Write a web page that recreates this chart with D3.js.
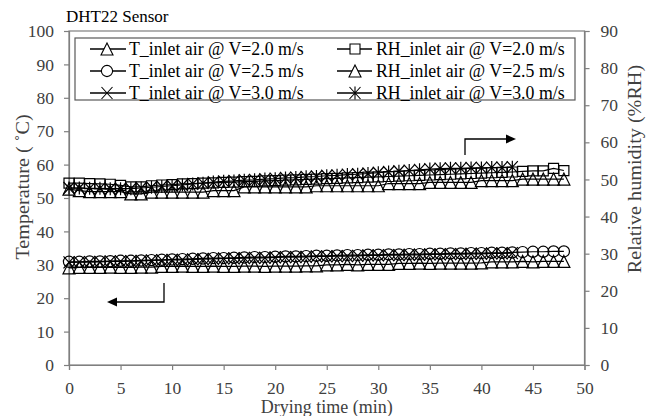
<!DOCTYPE html>
<html><head><meta charset="utf-8">
<script src="https://cdn.jsdelivr.net/npm/d3@7"></script>
<style>
html,body{margin:0;padding:0;background:#fff;}
svg{display:block;}
text{font-family:"Liberation Serif","Times New Roman",serif;}
</style></head>
<body>
<svg id="chart" width="653" height="416"></svg>
<script>
// ---------------- data ----------------
const minutes48 = d3.range(0, 49);
const minutes43 = d3.range(0, 44);
const xTicks = [0,5,10,15,20,25,30,35,40,45,50];
const yLeftTicks = [0,10,20,30,40,50,60,70,80,90,100];
const yRightTicks = [0,10,20,30,40,50,60,70,80,90];

const T_20 = [29.1,29.2,29.2,29.2,29.3,29.2,29.2,29.3,29.3,
  29.5,29.5,29.6,29.5,29.5,29.6,29.5,29.5,29.6,29.6,29.5,29.6,29.6,29.6,29.7,29.7,
  30.0,30.0,30.1,30.0,30.1,30.1,30.1,
  30.4,30.4,30.5,30.4,30.5,30.5,30.5,30.5,30.6,
  30.9,30.9,30.9,31.0,30.9,31.0,31.0,31.0];
const T_25 = [30.9,30.9,31.0,31.0,31.1,31.2,31.2,31.3,31.4,31.5,31.6,31.7,31.8,31.9,32.0,32.0,
  32.1,32.2,32.3,32.3,32.4,32.5,32.5,32.6,32.7,32.7,32.8,32.9,32.9,33.0,33.0,33.1,33.1,
  33.2,33.2,33.3,33.3,33.4,33.4,33.5,33.5,33.6,33.6,33.7,33.8,33.9,33.9,34.0,34.0];
const T_30 = [30.7,30.8,30.8,30.9,31.0,31.0,31.1,31.2,31.3,31.4,31.5,31.5,31.6,31.7,31.8,31.9,
  31.9,32.0,32.1,32.1,32.2,32.3,32.3,32.4,32.5,32.5,32.6,32.6,32.7,32.8,32.8,32.9,32.9,
  33.0,33.0,33.1,33.1,33.2,33.2,33.3,33.3,33.4,33.4,33.5];
const RH_20 = [49.0,49.0,48.9,48.8,48.7,48.4,48.0,48.0,48.3,48.5,48.6,48.8,48.9,49.0,49.1,49.2,
  49.3,49.4,49.5,49.6,49.7,49.8,49.9,50.0,50.1,50.2,50.3,50.4,50.5,50.6,50.7,50.8,50.9,
  51.0,51.1,51.2,51.3,51.4,51.5,51.6,51.7,51.8,51.9,52.0,52.2,52.3,52.3,53.0,52.4];
const RH_25 = [47.4,47.0,46.7,46.7,46.7,46.7,46.1,46.1,46.6,46.6,46.6,46.6,46.6,46.6,47.0,47.0,
  47.0,48.0,48.0,48.0,48.0,48.0,48.0,48.0,48.3,48.3,48.3,48.3,48.3,48.3,48.3,48.9,48.9,
  48.9,48.9,49.2,49.2,49.2,49.2,49.2,49.7,49.7,49.7,49.7,50.1,50.1,50.1,50.1,50.1];
const RH_30 = [47.7,47.7,47.6,47.6,47.5,47.5,47.5,47.7,47.9,48.1,48.3,48.5,48.8,49.0,49.3,49.5,
  49.6,49.8,49.9,50.1,50.2,50.4,50.5,50.7,50.8,51.0,51.1,51.3,51.4,51.6,51.8,52.0,52.2,
  52.4,52.6,52.8,52.9,53.0,53.0,53.1,53.1,53.2,53.2,53.3];

const seriesNames = ["T_inlet air @ V=2.0 m/s","T_inlet air @ V=2.5 m/s","T_inlet air @ V=3.0 m/s",
  "RH_inlet air @ V=2.0 m/s","RH_inlet air @ V=2.5 m/s","RH_inlet air @ V=3.0 m/s"];
const seriesMarkers = ["triangle","circle","x","square","triangle","star"];
const seriesAxis = ["left","left","left","right","right","right"];
const seriesX = [minutes48, minutes48, minutes43, minutes48, minutes48, minutes43];
const seriesY = [T_20, T_25, T_30, RH_20, RH_25, RH_30];

const titleText = "DHT22 Sensor";
const xTitle = "Drying time (min)";
const yLeftTitle = "Temperature ( \u02DAC)";
const yRightTitle = "Relative humidity (%RH)";

// ---------------- layout ----------------
const L = 69, R = 584.5, T = 31, B = 365;
const axisColor = "#7f7f7f", labelColor = "#404040";
const svg = d3.select("#chart");

const x = d3.scaleLinear().domain([0,50]).range([L,R]);
const yL = d3.scaleLinear().domain([0,100]).range([B,T]);
const yR = d3.scaleLinear().domain([0,90]).range([B,T]);

// frame
svg.append("rect").attr("x",L).attr("y",T).attr("width",R-L).attr("height",B-T)
  .attr("fill","none").attr("stroke",axisColor).attr("stroke-width",1.2);

function styleAxis(g){
  g.select(".domain").attr("stroke",axisColor).attr("stroke-width",1.2);
  g.selectAll(".tick line").attr("stroke",axisColor).attr("stroke-width",1.2);
  g.selectAll(".tick text").attr("fill",labelColor).style("font-size","17.5px")
    .style("font-family",'"Liberation Serif","Times New Roman",serif');
}
svg.append("g").attr("transform",`translate(0,${B})`)
  .call(d3.axisBottom(x).tickValues(xTicks).tickSize(5).tickPadding(12).tickFormat(d3.format("d")))
  .call(styleAxis);
svg.append("g").attr("transform",`translate(${L},0)`)
  .call(d3.axisLeft(yL).tickValues(yLeftTicks).tickSize(5).tickPadding(10).tickFormat(d3.format("d")))
  .call(styleAxis);
svg.append("g").attr("transform",`translate(${R},0)`)
  .call(d3.axisRight(yR).tickValues(yRightTicks).tickSize(5).tickPadding(11).tickFormat(d3.format("d")))
  .call(styleAxis);

// titles
svg.append("text").attr("x",66).attr("y",22).style("font-size","17px").attr("fill","#000").text(titleText);
svg.append("text").attr("x",(L+R)/2).attr("y",413).attr("text-anchor","middle")
  .style("font-size","18px").attr("fill",labelColor).text(xTitle);
svg.append("text").attr("transform","translate(23,187) rotate(-90) scale(1.12,1)").attr("text-anchor","middle")
  .attr("dominant-baseline","central").style("font-size","18px").attr("fill",labelColor).text(yLeftTitle);
svg.append("text").attr("transform","translate(635,169) rotate(-90) scale(1.12,1)").attr("text-anchor","middle")
  .attr("dominant-baseline","central").style("font-size","18px").attr("fill",labelColor).text(yRightTitle);

// marker paths
function markerPath(type){
  const s = 6;
  switch(type){
    case "triangle": return `M0,${-s}L${s},${s}L${-s},${s}Z`;
    case "circle": { const p = d3.path(); p.arc(0,0,5.6,0,2*Math.PI); p.closePath(); return p.toString(); }
    case "square": return `M-5,-5H5V5H-5Z`;
    case "x": return `M-5.5,-6L5.5,6M-5.5,6L5.5,-6`;
    case "star": return `M-5.5,-6L5.5,6M-5.5,6L5.5,-6M0,-6.5V6.5`;
  }
}

// series
const plot = svg.append("g");
seriesY.forEach((vals, i) => {
  const ys = seriesAxis[i] === "left" ? yL : yR;
  const pts = seriesX[i].map((m, j) => [m, vals[j]]);
  plot.append("path").datum(pts)
    .attr("d", d3.line().x(d => x(d[0])).y(d => ys(d[1])))
    .attr("fill","none").attr("stroke","#000").attr("stroke-width",1.2);
  plot.append("g").selectAll("path").data(pts).join("path")
    .attr("transform", d => `translate(${x(d[0])},${ys(d[1])})`)
    .attr("d", markerPath(seriesMarkers[i]))
    .attr("fill","none").attr("stroke","#000").attr("stroke-width",1.2);
});

// arrows
const arrows = svg.append("g");
arrows.append("path").attr("d","M465,155V139H507").attr("fill","none").attr("stroke","#000").attr("stroke-width",1.3);
arrows.append("path").attr("d","M516,139L506,134.5L506,143.5Z").attr("fill","#000");
arrows.append("path").attr("d","M164,283V302H117").attr("fill","none").attr("stroke","#000").attr("stroke-width",1.3);
arrows.append("path").attr("d","M107,302L117,297.5L117,306.5Z").attr("fill","#000");

// legend
const lg = svg.append("g");
lg.append("rect").attr("x",75).attr("y",38).attr("width",500).attr("height",62)
  .attr("fill","#fff").attr("stroke","#595959").attr("stroke-width",1.2);
const rowY = [49,71,93];
const colX = [{l1:90,l2:126,m:107,t:129},{l1:337,l2:372,m:355,t:376}];
seriesNames.forEach((name,i)=>{
  const c = colX[i<3?0:1], yy = rowY[i%3];
  lg.append("line").attr("x1",c.l1).attr("x2",c.l2).attr("y1",yy).attr("y2",yy)
    .attr("stroke","#000").attr("stroke-width",1.3);
  lg.append("path").attr("transform",`translate(${c.m},${yy})`).attr("d",markerPath(seriesMarkers[i]))
    .attr("fill","#fff").attr("stroke","#000").attr("stroke-width",1.1);
  lg.append("text").attr("x",c.t).attr("y",yy).attr("dominant-baseline","central")
    .style("font-size","17.8px").attr("fill","#000").text(name);
});
</script>
</body></html>
